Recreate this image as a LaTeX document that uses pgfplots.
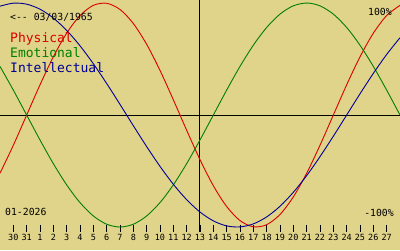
\documentclass[border=0pt]{standalone}
\usepackage{pgfplots}
\pgfplotsset{compat=1.18}
\usepackage{fontspec}
\setmainfont{DejaVu Sans Mono}[Ligatures=TeXOff]
\definecolor{bg}{RGB}{224,211,138}
\definecolor{phys}{RGB}{220,0,0}
\definecolor{emo}{RGB}{0,128,0}
\definecolor{intel}{RGB}{0,0,150}
\begin{document}
\begin{tikzpicture}[x=1pt,y=1pt]
\useasboundingbox (0,0) rectangle (400,250);
\fill[bg] (0,0) rectangle (400,250);
\begin{axis}[at={(0,0)},anchor=south west,
  scale only axis, width=400pt, height=250pt,
  xmin=-1, xmax=29, ymin=-120.5, ymax=102.7,
  hide axis, clip=false]
% horizontal zero line and vertical today line
\addplot[black, line width=1pt] coordinates {(-1,0) (29,0)};
\addplot[black, line width=1pt] coordinates {(14,102.7) (14,-104.5)};
% day ticks
\foreach \t in {0,...,29} {
  \edef\tmp{\noexpand\draw[black, line width=0.9pt] (axis cs:\t,-98.2) -- (axis cs:\t,-104.5);}\tmp
}
% Physical
\addplot[phys, line width=0.9pt, smooth] coordinates {
(-1,-51.96) (0,-26.98) (1,0) (2,26.98) (3,51.96) (4,73.08) (5,88.79) (6,97.91) (7,99.77)
(8,94.23) (9,81.70) (10,63.11) (11,39.84) (12,13.62) (13,-13.62) (14,-39.84) (15,-63.11)
(16,-81.70) (17,-94.23) (18,-99.77) (19,-97.91) (20,-88.79) (21,-73.08) (22,-51.96)
(23,-26.98) (24,0) (25,26.98) (26,51.96) (27,73.08) (28,88.79) (29,97.91)};
% Emotional
\addplot[emo, line width=0.9pt, smooth] coordinates {
(-1,43.39) (0,22.25) (1,0) (2,-22.25) (3,-43.39) (4,-62.35) (5,-78.18) (6,-90.10) (7,-97.49)
(8,-100) (9,-97.49) (10,-90.10) (11,-78.18) (12,-62.35) (13,-43.39) (14,-22.25) (15,0)
(16,22.25) (17,43.39) (18,62.35) (19,78.18) (20,90.10) (21,97.49) (22,100) (23,97.49)
(24,90.10) (25,78.18) (26,62.35) (27,43.39) (28,22.25) (29,0)};
% Intellectual
\addplot[intel, line width=0.9pt, smooth] coordinates {
(-1,97.18) (0,99.89) (1,98.98) (2,94.50) (3,86.60) (4,75.57) (5,61.82) (6,45.82) (7,28.17)
(8,9.51) (9,-9.51) (10,-28.17) (11,-45.82) (12,-61.82) (13,-75.57) (14,-86.60) (15,-94.50)
(16,-98.98) (17,-99.89) (18,-97.18) (19,-90.96) (20,-81.46) (21,-69.01) (22,-54.06)
(23,-37.17) (24,-18.93) (25,0) (26,18.93) (27,37.17) (28,54.06) (29,69.01)};
\end{axis}
% tick labels
\foreach \lab [count=\i from 0] in {30,31,1,2,3,4,5,6,7,8,9,10,11,12,13,14,15,16,17,18,19,20,21,22,23,24,25,26,27} {
  \node[anchor=base, inner sep=0pt, font=\fontsize{8.5}{9}\selectfont] at ({13.333*(\i+1)}, 9.3) {\lab};
}
\node[anchor=base west, inner sep=0pt, font=\fontsize{9.8}{11}\selectfont] at (10,230) {<-{}- 03/03/1965};
\node[anchor=base west, inner sep=0pt, text=phys, font=\fontsize{13}{14}\selectfont] at (10,207.3) {Physical};
\node[anchor=base west, inner sep=0pt, text=emo, font=\fontsize{13}{14}\selectfont] at (10,192.7) {Emotional};
\node[anchor=base west, inner sep=0pt, text=intel, font=\fontsize{13}{14}\selectfont] at (10,178) {Intellectual};
\node[anchor=base east, inner sep=0pt, font=\fontsize{9.8}{11}\selectfont] at (392,234.7) {100\%};
\node[anchor=base east, inner sep=0pt, font=\fontsize{9.8}{11}\selectfont] at (394,34) {-100\%};
\node[anchor=base west, inner sep=0pt, font=\fontsize{9.8}{11}\selectfont] at (5,35) {01-2026};
\end{tikzpicture}
\end{document}
